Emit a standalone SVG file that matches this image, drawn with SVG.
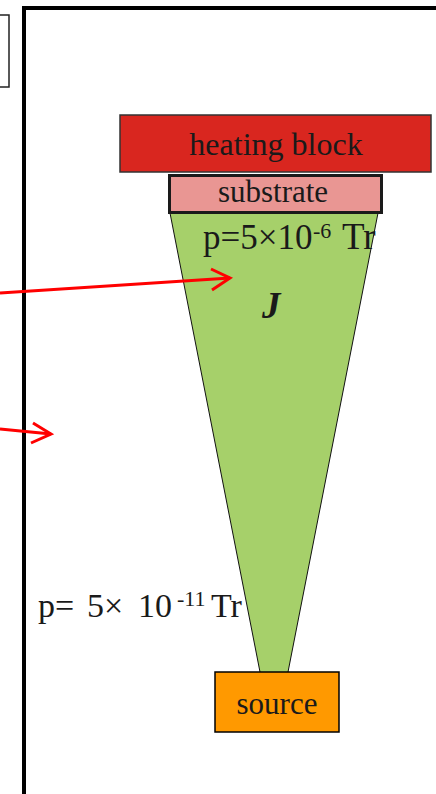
<svg xmlns="http://www.w3.org/2000/svg" width="436" height="794" viewBox="0 0 436 794">
<style>
.t{font-family:"Liberation Serif","Times New Roman",serif;fill:#1a1a1a}
.sup{font-size:22px}
.arr{stroke:#ff0000;stroke-width:3;fill:none}
</style>
<rect width="436" height="794" fill="#fff"/>
<g id="left-box"><rect x="-4" y="15" width="13" height="72" fill="#fff" stroke="#222" stroke-width="1.5"/></g>
<g id="frame"><path d="M24,794 V8 H440" fill="none" stroke="#000" stroke-width="4"/></g>
<g id="cone">
<polygon points="170,213 378,213 288,672 260,672" fill="#a6d06a"/>
<path d="M170,213 L260,672 M378,213 L288,672" stroke="#111" stroke-width="1" fill="none"/>
</g>
<g id="heating-block">
<rect x="120" y="115" width="311" height="57" fill="#d9261f" stroke="#333" stroke-width="1.5"/>
<text class="t" x="276" y="155" font-size="32" text-anchor="middle">heating block</text>
</g>
<g id="substrate">
<rect x="169.5" y="175.5" width="212" height="37" fill="#e99693" stroke="#1a1a1a" stroke-width="3"/>
<text class="t" x="273" y="202" font-size="31" text-anchor="middle">substrate</text>
</g>
<g id="source">
<rect x="215" y="672" width="124" height="60" fill="#ff9900" stroke="#000" stroke-width="1.5"/>
<text class="t" x="277" y="714" font-size="31" text-anchor="middle" fill="#000">source</text>
</g>
<g id="labels">
<text class="t" x="203" y="249" font-size="35" fill="#000">p=5×10<tspan class="sup" x="313" y="238">-6</tspan><tspan x="342" y="249" font-size="37">Tr</tspan></text>
<text class="t" x="262" y="318" font-size="37" font-style="italic" font-weight="bold">J</text>
<text class="t" x="38" y="617" font-size="34" fill="#000">p=<tspan x="87">5×</tspan><tspan x="138">10</tspan><tspan class="sup" x="177" y="606">-11</tspan><tspan x="211" y="617">Tr</tspan></text>
</g>
<g id="connectors">
<path class="arr" d="M0,293 L230,278"/>
<path class="arr" d="M211,269 L230,278 L212,290"/>
<path class="arr" d="M0,429 L51,434"/>
<path class="arr" d="M33,423 L51,434 L31,443"/>
</g>
</svg>
